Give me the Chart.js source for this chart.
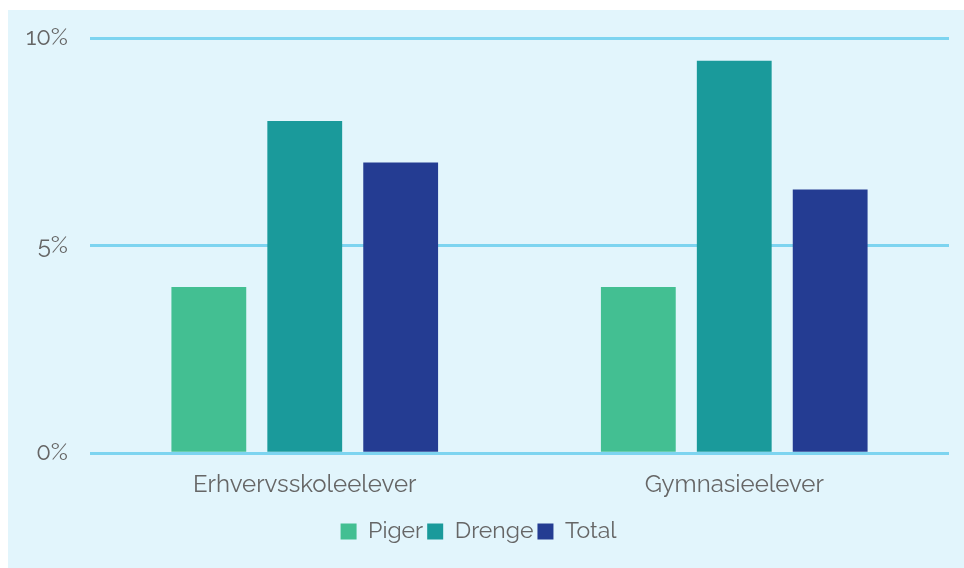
<!DOCTYPE html>
<html>
<head>
<meta charset="utf-8">
<script src="https://cdn.jsdelivr.net/npm/chart.js@4"></script>
<style>
  html, body { margin: 0; padding: 0; background: #ffffff; }
  #box { position: absolute; left: 8px; top: 10px; width: 956px; height: 558px; background: #E2F5FC; }
  #box canvas { display: block; }
</style>
</head>
<body>
<div id="box"><canvas id="c" width="956" height="558"></canvas></div>
<script>
const categories = ["Erhvervsskoleelever", "Gymnasieelever"];
const seriesNames = ["Piger", "Drenge", "Total"];
const piger = [4, 4];
const drenge = [8, 9.45];
const total = [7, 6.35];
const yTicks = [0, 5, 10];

const colors = ["#43BF92", "#1A9A9B", "#243C92"];
const fontFamily = "Raleway, Lato, 'Open Sans', sans-serif";

new Chart(document.getElementById('c'), {
  type: 'bar',
  data: {
    labels: categories,
    datasets: [
      { label: seriesNames[0], data: piger, backgroundColor: colors[0] },
      { label: seriesNames[1], data: drenge, backgroundColor: colors[1] },
      { label: seriesNames[2], data: total, backgroundColor: colors[2] }
    ]
  },
  options: {
    responsive: false,
    animation: false,
    devicePixelRatio: 1,
    layout: { padding: { top: 28, right: 15, left: 0, bottom: 15 } },
    datasets: { bar: { categoryPercentage: 0.67, barPercentage: 0.78 } },
    plugins: {
      tooltip: { enabled: false },
      legend: {
        position: 'bottom',
        labels: {
          boxWidth: 16, boxHeight: 16, padding: 4,
          color: '#666666',
          font: { family: fontFamily, size: 23 }
        }
      }
    },
    scales: {
      x: {
        grid: { display: false, drawTicks: false },
        border: { display: false },
        ticks: { color: '#666666', font: { family: fontFamily, size: 24 }, padding: 17 }
      },
      y: {
        min: 0, max: 10,
        afterBuildTicks: (scale) => { scale.ticks = yTicks.map(v => ({ value: v })); },
        afterFit: (scale) => { scale.width = 82; scale.paddingTop = 0; scale.paddingBottom = 0; },
        grid: { color: 'rgb(125,212,240)', lineWidth: 3, drawTicks: false },
        border: { display: false },
        ticks: {
          color: '#666666', padding: 22,
          font: { family: fontFamily, size: 24 },
          callback: (v) => v + '%'
        }
      }
    }
  }
});
</script>
</body>
</html>
